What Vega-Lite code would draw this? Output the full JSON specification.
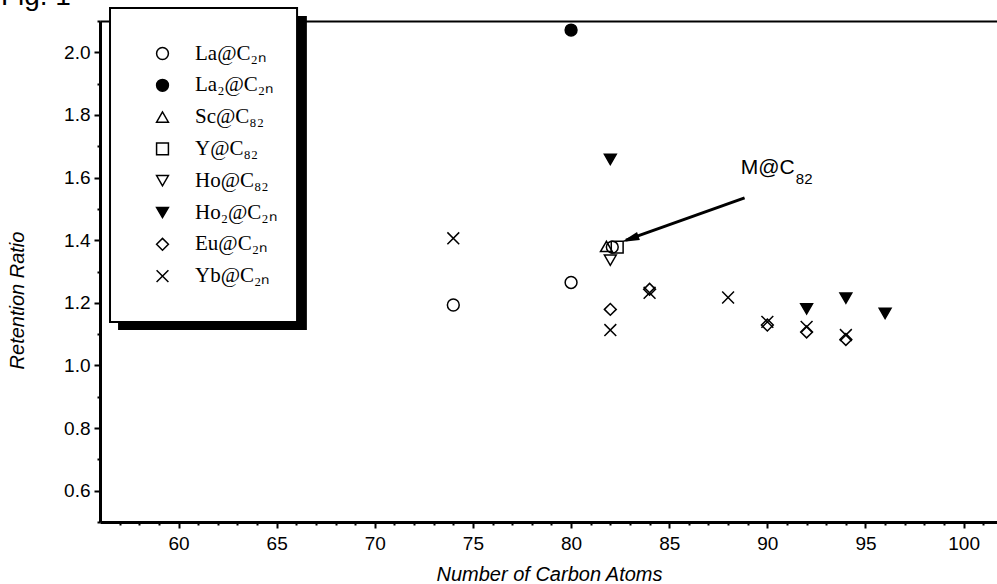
{
  "$schema": "https://vega.github.io/schema/vega-lite/v6.json",
  "width": 897,
  "height": 501,
  "autosize": "none",
  "padding": {"left": 100, "top": 21, "right": 0, "bottom": 62},
  "background": "white",
  "config": {
    "view": {"stroke": null},
    "axis": {"grid": false, "domainColor": "black", "tickColor": "black", "labelColor": "black", "titleColor": "black"}
  },
  "resolve": {"axis": {"x": "independent", "y": "independent"}},
  "layer": [
    {
      "data": {"values": [{}]},
      "mark": {"type": "rect", "fill": "black", "clip": false},
      "encoding": {
        "x": {"datum": 56.92, "type": "quantitative", "scale": {"domain": [56, 101.7], "nice": false, "zero": false},
          "axis": {"orient": "bottom", "values": [57,58,59,61,62,63,64,66,67,68,69,71,72,73,74,76,77,78,79,81,82,83,84,86,87,88,89,91,92,93,94,96,97,98,99,101], "labels": false, "domain": false, "tickSize": 3, "tickWidth": 2, "title": null}},
        "x2": {"datum": 66.54},
        "y": {"datum": 2.116, "type": "quantitative", "scale": {"domain": [0.5, 2.1], "nice": false, "zero": false},
          "axis": {"orient": "left", "values": [0.5,0.7,0.9,1.1,1.3,1.5,1.7,1.9,2.1], "labels": false, "domain": false, "tickSize": 3, "tickWidth": 2, "title": null}},
        "y2": {"datum": 1.113}
      }
    },
    {
      "data": {"values": [{}]},
      "mark": {"type": "rect", "fill": "white", "stroke": "black", "strokeWidth": 2, "clip": false},
      "encoding": {
        "x": {"datum": 56.51, "type": "quantitative", "axis": null},
        "x2": {"datum": 66.04},
        "y": {"datum": 2.1415, "type": "quantitative", "axis": null},
        "y2": {"datum": 1.1387}
      }
    },
    {
      "data": {"values": [
        {"series": "La@C₂ₙ", "n": 74, "ratio": 1.193},
        {"series": "La@C₂ₙ", "n": 80, "ratio": 1.265},
        {"series": "La@C₂ₙ", "n": 82.1, "ratio": 1.378},
        {"series": "La₂@C₂ₙ", "n": 80, "ratio": 2.071},
        {"series": "Sc@C₈₂", "n": 81.8, "ratio": 1.38},
        {"series": "Y@C₈₂", "n": 82.35, "ratio": 1.378},
        {"series": "Ho@C₈₂", "n": 82, "ratio": 1.336},
        {"series": "Ho₂@C₂ₙ", "n": 82, "ratio": 1.658},
        {"series": "Ho₂@C₂ₙ", "n": 92, "ratio": 1.181},
        {"series": "Ho₂@C₂ₙ", "n": 94, "ratio": 1.215},
        {"series": "Ho₂@C₂ₙ", "n": 96, "ratio": 1.166},
        {"series": "Eu@C₂ₙ", "n": 82, "ratio": 1.179},
        {"series": "Eu@C₂ₙ", "n": 84, "ratio": 1.243},
        {"series": "Eu@C₂ₙ", "n": 90, "ratio": 1.129},
        {"series": "Eu@C₂ₙ", "n": 92, "ratio": 1.107},
        {"series": "Eu@C₂ₙ", "n": 94, "ratio": 1.083},
        {"series": "Yb@C₂ₙ", "n": 74, "ratio": 1.406},
        {"series": "Yb@C₂ₙ", "n": 82, "ratio": 1.113},
        {"series": "Yb@C₂ₙ", "n": 84, "ratio": 1.232},
        {"series": "Yb@C₂ₙ", "n": 88, "ratio": 1.217},
        {"series": "Yb@C₂ₙ", "n": 90, "ratio": 1.139},
        {"series": "Yb@C₂ₙ", "n": 92, "ratio": 1.123},
        {"series": "Yb@C₂ₙ", "n": 94, "ratio": 1.097}
      ]},
      "mark": {"type": "point", "filled": true, "stroke": "black", "strokeWidth": 1.5, "opacity": 1},
      "encoding": {
        "x": {"field": "n", "type": "quantitative", "scale": {"domain": [56, 101.7], "nice": false, "zero": false},
          "axis": {"orient": "bottom", "values": [60,65,70,75,80,85,90,95,100], "format": "d", "tickSize": 6, "tickWidth": 2, "domainWidth": 3,
            "labelFontSize": 19, "labelFont": "Liberation Sans", "labelPadding": 6,
            "title": "Number of Carbon Atoms", "titleFont": "Liberation Sans", "titleFontSize": 20, "titleFontStyle": "italic", "titleFontWeight": "normal",
            "titleX": 449, "titleY": 42}},
        "y": {"field": "ratio", "type": "quantitative", "scale": {"domain": [0.5, 2.1], "nice": false, "zero": false},
          "axis": {"orient": "left", "values": [0.6,0.8,1.0,1.2,1.4,1.6,1.8,2.0], "format": ".1f", "tickSize": 6, "tickWidth": 2, "domainWidth": 3,
            "labelFontSize": 19, "labelFont": "Liberation Sans", "labelPadding": 4,
            "title": "Retention Ratio", "titleFont": "Liberation Sans", "titleFontSize": 20, "titleFontStyle": "italic", "titleFontWeight": "normal",
            "titleX": -83, "titleY": 279, "titleBaseline": "middle"}},
        "shape": {"field": "series", "type": "nominal",
          "scale": {"domain": ["La@C₂ₙ", "La₂@C₂ₙ", "Sc@C₈₂", "Y@C₈₂", "Ho@C₈₂", "Ho₂@C₂ₙ", "Eu@C₂ₙ", "Yb@C₂ₙ"],
            "range": ["circle", "circle", "triangle-up", "square", "triangle-down", "triangle-down", "diamond", "M-1,-1L1,1M-1,1L1,-1"]},
          "legend": {"title": null, "orient": "none", "legendX": 10, "legendY": -10, "padding": 32, "strokeColor": null, "fillColor": null,
            "labelFont": "Liberation Serif", "labelFontSize": 21, "labelColor": "black", "labelOffset": 22, "rowPadding": 9.8,
            "symbolStrokeColor": "black", "symbolStrokeWidth": 1.5, "symbolOffset": 10, "zindex": 1, "labelLimit": 300}},
        "fill": {"field": "series", "type": "nominal",
          "scale": {"domain": ["La@C₂ₙ", "La₂@C₂ₙ", "Sc@C₈₂", "Y@C₈₂", "Ho@C₈₂", "Ho₂@C₂ₙ", "Eu@C₂ₙ", "Yb@C₂ₙ"],
            "range": ["transparent", "black", "transparent", "transparent", "transparent", "black", "transparent", "transparent"]}},
        "size": {"field": "series", "type": "nominal",
          "scale": {"domain": ["La@C₂ₙ", "La₂@C₂ₙ", "Sc@C₈₂", "Y@C₈₂", "Ho@C₈₂", "Ho₂@C₂ₙ", "Eu@C₂ₙ", "Yb@C₂ₙ"],
            "range": [140, 140, 190, 120, 190, 240, 190, 150]}}
      }
    },
    {
      "data": {"values": [{}]},
      "mark": {"type": "rule", "stroke": "black", "strokeWidth": 3},
      "encoding": {
        "x": {"datum": 88.84, "type": "quantitative", "axis": null},
        "x2": {"datum": 82.8},
        "y": {"datum": 1.535, "type": "quantitative", "axis": null},
        "y2": {"datum": 1.4}
      }
    },
    {
      "data": {"values": [{}]},
      "mark": {"type": "point", "shape": "M0,0L-0.42,1.8L0.42,1.8Z", "angle": 250.3, "size": 400, "filled": true, "fill": "black", "strokeWidth": 0, "opacity": 1},
      "encoding": {
        "x": {"datum": 82.57, "type": "quantitative", "axis": null},
        "y": {"datum": 1.394, "type": "quantitative", "axis": null}
      }
    },
    {
      "data": {"values": [{}]},
      "mark": {"type": "text", "text": "M@C", "align": "left", "baseline": "middle", "font": "Liberation Sans", "fontSize": 21, "color": "black"},
      "encoding": {
        "x": {"datum": 88.64, "type": "quantitative",
          "axis": {"orient": "top", "ticks": false, "labels": false, "domainWidth": 2, "title": null, "domainColor": "black"}},
        "y": {"datum": 1.6305, "type": "quantitative", "axis": null}
      }
    },
    {
      "data": {"values": [{}]},
      "mark": {"type": "text", "text": "82", "align": "left", "baseline": "middle", "font": "Liberation Sans", "fontSize": 15, "color": "black"},
      "encoding": {
        "x": {"datum": 91.45, "type": "quantitative", "axis": null},
        "y": {"datum": 1.595, "type": "quantitative", "axis": null}
      }
    },
    {
      "data": {"values": [{}]},
      "mark": {"type": "text", "text": "Fig. 1", "align": "left", "baseline": "alphabetic", "font": "Liberation Sans", "fontSize": 28, "color": "black", "clip": false},
      "encoding": {
        "x": {"datum": 50.95, "type": "quantitative", "axis": null},
        "y": {"datum": 2.152, "type": "quantitative", "axis": null}
      }
    }
  ]
}
